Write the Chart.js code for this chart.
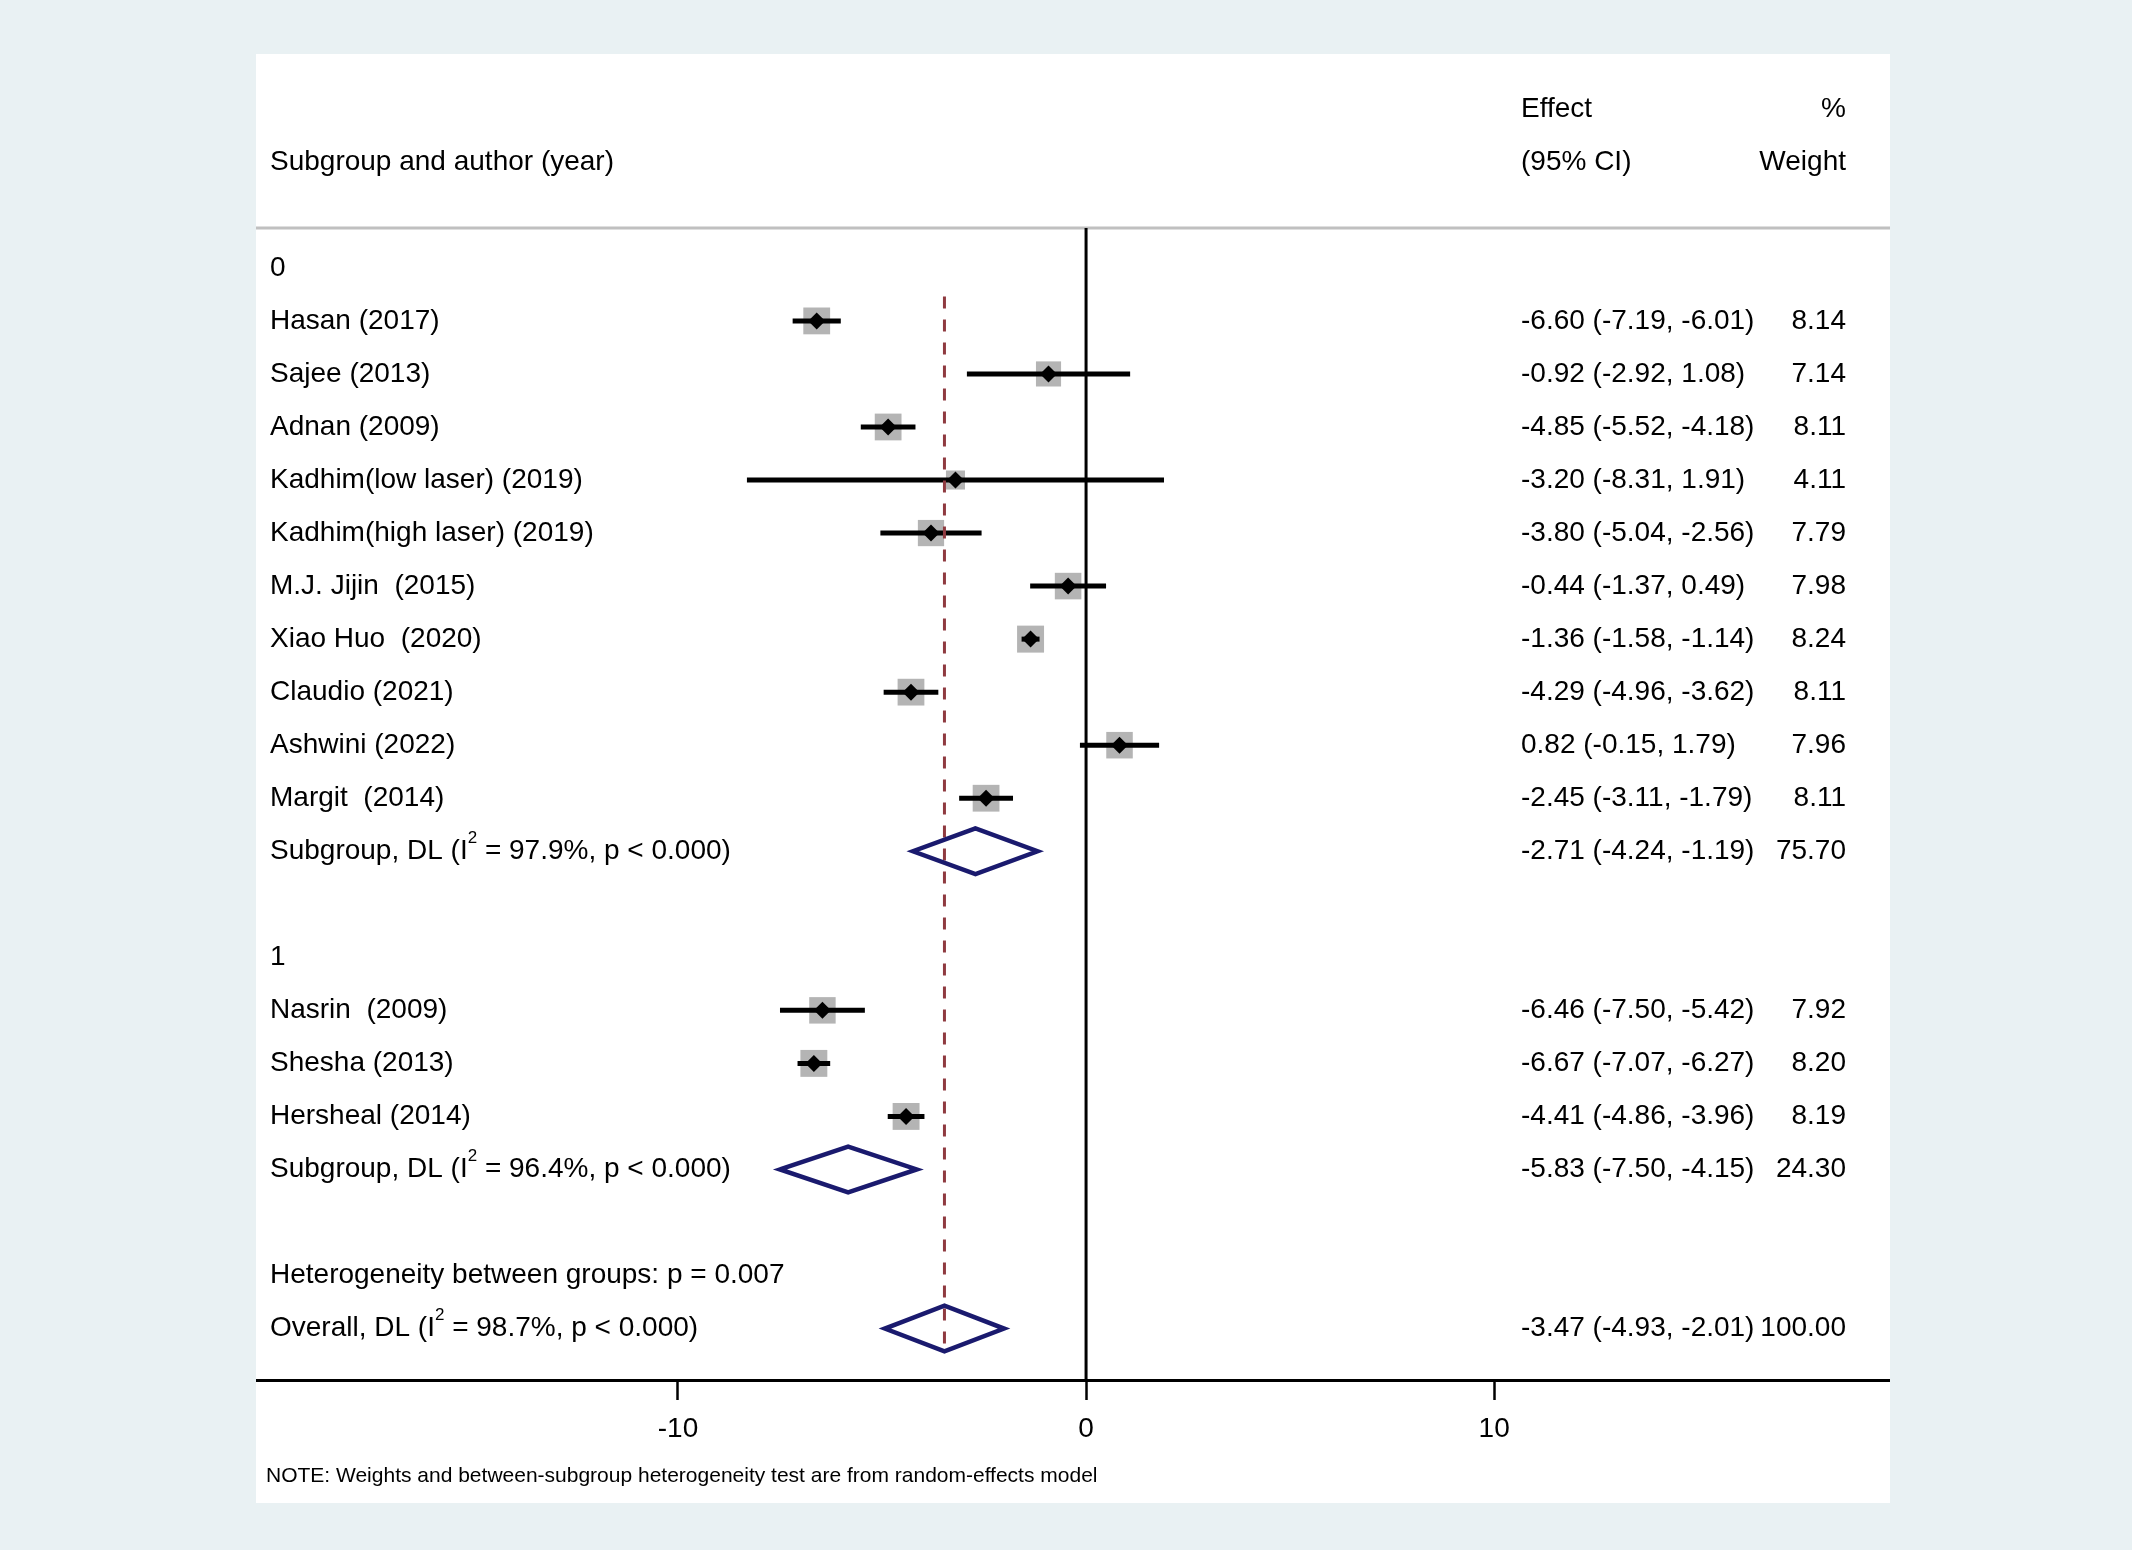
<!DOCTYPE html>
<html>
<head>
<meta charset="utf-8">
<title>Forest plot</title>
<script src="https://cdn.jsdelivr.net/npm/chart.js@4.4.1/dist/chart.umd.min.js"></script>
<style>
  body { margin: 0; background: #e9f1f3; width: 2132px; height: 1550px; overflow: hidden; }
  #panel { position: absolute; left: 256px; top: 54px; width: 1634px; height: 1449px; background: #fff; }
</style>
</head>
<body>
<div id="panel"><canvas id="forest" width="1634" height="1449"></canvas></div>
<script>
// study level estimates
const studyNames = ["Hasan (2017)", "Sajee (2013)", "Adnan (2009)", "Kadhim(low laser) (2019)",
  "Kadhim(high laser) (2019)", "M.J. Jijin  (2015)", "Xiao Huo  (2020)", "Claudio (2021)",
  "Ashwini (2022)", "Margit  (2014)", "Nasrin  (2009)", "Shesha (2013)", "Hersheal (2014)"];
const studyGroup = [0, 0, 0, 0, 0, 0, 0, 0, 0, 0, 1, 1, 1];
const studyEffect = [-6.60, -0.92, -4.85, -3.20, -3.80, -0.44, -1.36, -4.29, 0.82, -2.45, -6.46, -6.67, -4.41];
const studyLower = [-7.19, -2.92, -5.52, -8.31, -5.04, -1.37, -1.58, -4.96, -0.15, -3.11, -7.50, -7.07, -4.86];
const studyUpper = [-6.01, 1.08, -4.18, 1.91, -2.56, 0.49, -1.14, -3.62, 1.79, -1.79, -5.42, -6.27, -3.96];
const studyWeight = [8.14, 7.14, 8.11, 4.11, 7.79, 7.98, 8.24, 8.11, 7.96, 8.11, 7.92, 8.20, 8.19];

// subgroups
const groupNames = ["0", "1"];
const groupEffect = [-2.71, -5.83];
const groupLower = [-4.24, -7.50];
const groupUpper = [-1.19, -4.15];
const groupWeight = [75.70, 24.30];
const groupI2 = ["97.9%", "96.4%"];
const groupP = ["< 0.000", "< 0.000"];

// overall
const overallEffect = -3.47;
const overallLower = -4.93;
const overallUpper = -2.01;
const overallWeight = 100.00;
const overallI2 = "98.7%";
const overallP = "< 0.000";
const betweenP = "0.007";

const xTicks = [-10, 0, 10];
const noteText = "NOTE: Weights and between-subgroup heterogeneity test are from random-effects model";

const FONT = '"Liberation Sans", Arial, sans-serif';

function ciText(e, lo, hi) {
  return e.toFixed(2) + " (" + lo.toFixed(2) + ", " + hi.toFixed(2) + ")";
}

// one entry per text line of the table, top to bottom
const rows = [];
rows.push({ label: "", ci: "Effect", weight: "%" });
rows.push({ label: "Subgroup and author (year)", ci: "(95% CI)", weight: "Weight" });
rows.push({ label: "" });
groupNames.forEach((g, gi) => {
  rows.push({ label: g });
  studyNames.forEach((name, i) => {
    if (studyGroup[i] !== gi) return;
    rows.push({ label: name, ci: ciText(studyEffect[i], studyLower[i], studyUpper[i]),
      weight: studyWeight[i].toFixed(2), study: i });
  });
  rows.push({ label: "Subgroup, DL (I² = " + groupI2[gi] + ", p " + groupP[gi] + ")",
    ci: ciText(groupEffect[gi], groupLower[gi], groupUpper[gi]), weight: groupWeight[gi].toFixed(2),
    pooled: [groupEffect[gi], groupLower[gi], groupUpper[gi]] });
  rows.push({ label: "" });
});
rows.push({ label: "Heterogeneity between groups: p = " + betweenP });
rows.push({ label: "Overall, DL (I² = " + overallI2 + ", p " + overallP + ")",
  ci: ciText(overallEffect, overallLower, overallUpper), weight: overallWeight.toFixed(2),
  pooled: [overallEffect, overallLower, overallUpper] });

const yMin = -1.033, yMax = 23.97;
const xMin = -20.34, xMax = 19.7;
const sepRow = 2.25;
const diamondHalf = 0.43;

const datasets = [];
const studyRows = [];
rows.forEach((r, i) => { if (r.study !== undefined) studyRows[r.study] = i; });

// weight boxes
datasets.push({
  data: studyEffect.map((e, i) => ({ x: e, y: studyRows[i] })),
  pointStyle: "rect",
  pointRadius: studyWeight.map(w => 9.4 * Math.sqrt(w) / Math.SQRT2),
  backgroundColor: "#b4b4b4",
  borderWidth: 0,
  order: 6
});

// zero line
datasets.push({
  data: [{ x: 0, y: sepRow }, { x: 0, y: yMax }],
  showLine: true, borderColor: "#000", borderWidth: 3, pointRadius: 0, order: 5
});

// confidence intervals
studyEffect.forEach((e, i) => {
  datasets.push({
    data: [{ x: studyLower[i], y: studyRows[i] }, { x: studyUpper[i], y: studyRows[i] }],
    showLine: true, borderColor: "#000", borderWidth: 5, pointRadius: 0, order: 4
  });
});

// overall effect line
const firstStudyRow = Math.min(...studyRows);
datasets.push({
  data: [{ x: overallEffect, y: firstStudyRow - 0.46 }, { x: overallEffect, y: rows.length - 1 + 0.47 }],
  showLine: true, borderColor: "#8f3a40", borderWidth: 3, borderDash: [12, 11], pointRadius: 0, order: 3
});

// pooled diamonds
rows.forEach((r, i) => {
  if (!r.pooled) return;
  const [e, lo, hi] = r.pooled;
  datasets.push({
    data: [{ x: lo, y: i }, { x: e, y: i - diamondHalf }, { x: hi, y: i }, { x: e, y: i + diamondHalf },
      { x: lo, y: i }, { x: e, y: i - diamondHalf }],
    showLine: true, borderColor: "#1a1a6e", borderWidth: 4.5, pointRadius: 0,
    borderJoinStyle: "miter", order: 2
  });
});

// point estimates
datasets.push({
  data: studyEffect.map((e, i) => ({ x: e, y: studyRows[i] })),
  pointStyle: "rectRot", pointRadius: 8.5, backgroundColor: "#000", borderWidth: 0, order: 1
});

function drawLabel(ctx, text, x, y) {
  const parts = text.split("²");
  let cx = x;
  parts.forEach((p, i) => {
    if (i > 0) {
      ctx.font = "17px " + FONT;
      ctx.fillText("2", cx, y - 13);
      cx += ctx.measureText("2").width;
      ctx.font = "28px " + FONT;
    }
    ctx.fillText(p, cx, y);
    cx += ctx.measureText(p).width;
  });
}

const tablePlugin = {
  id: "table",
  beforeDatasetsDraw(chart) {
    const ctx = chart.ctx;
    const y = chart.scales.y.getPixelForValue(sepRow);
    ctx.save();
    ctx.strokeStyle = "#c0c0c0";
    ctx.lineWidth = 3;
    ctx.beginPath();
    ctx.moveTo(chart.chartArea.left, y);
    ctx.lineTo(chart.chartArea.right, y);
    ctx.stroke();
    ctx.restore();
  },
  afterDatasetsDraw(chart) {
    const ctx = chart.ctx;
    const ys = chart.scales.y;
    ctx.save();
    ctx.fillStyle = "#000";
    ctx.textBaseline = "middle";
    ctx.font = "28px " + FONT;
    rows.forEach((r, i) => {
      const y = ys.getPixelForValue(i);
      ctx.textAlign = "left";
      if (r.label) drawLabel(ctx, r.label, 14, y);
      if (r.ci) ctx.fillText(r.ci, 1265, y);
      if (r.weight) {
        ctx.textAlign = "right";
        ctx.fillText(r.weight, 1590, y);
      }
    });
    ctx.textAlign = "left";
    ctx.font = "21px " + FONT;
    ctx.fillText(noteText, 10, 1422);
    ctx.restore();
  }
};

new Chart(document.getElementById("forest"), {
  type: "scatter",
  data: { datasets },
  options: {
    responsive: false,
    animation: false,
    layout: { padding: 0, autoPadding: false },
    plugins: { legend: { display: false }, tooltip: { enabled: false } },
    scales: {
      x: {
        type: "linear", min: xMin, max: xMax,
        afterBuildTicks: s => { s.ticks = xTicks.map(v => ({ value: v })); },
        afterFit: s => { s.height = 123; },
        grid: { display: true, drawOnChartArea: false, drawTicks: true, tickLength: 20, tickWidth: 2.5, tickColor: "#000" },
        border: { display: true, color: "#000", width: 3 },
        ticks: { color: "#000", font: { family: FONT, size: 28 }, padding: 12, maxRotation: 0 }
      },
      y: { type: "linear", min: yMin, max: yMax, reverse: true, display: false }
    }
  },
  plugins: [tablePlugin]
});
</script>
</body>
</html>
